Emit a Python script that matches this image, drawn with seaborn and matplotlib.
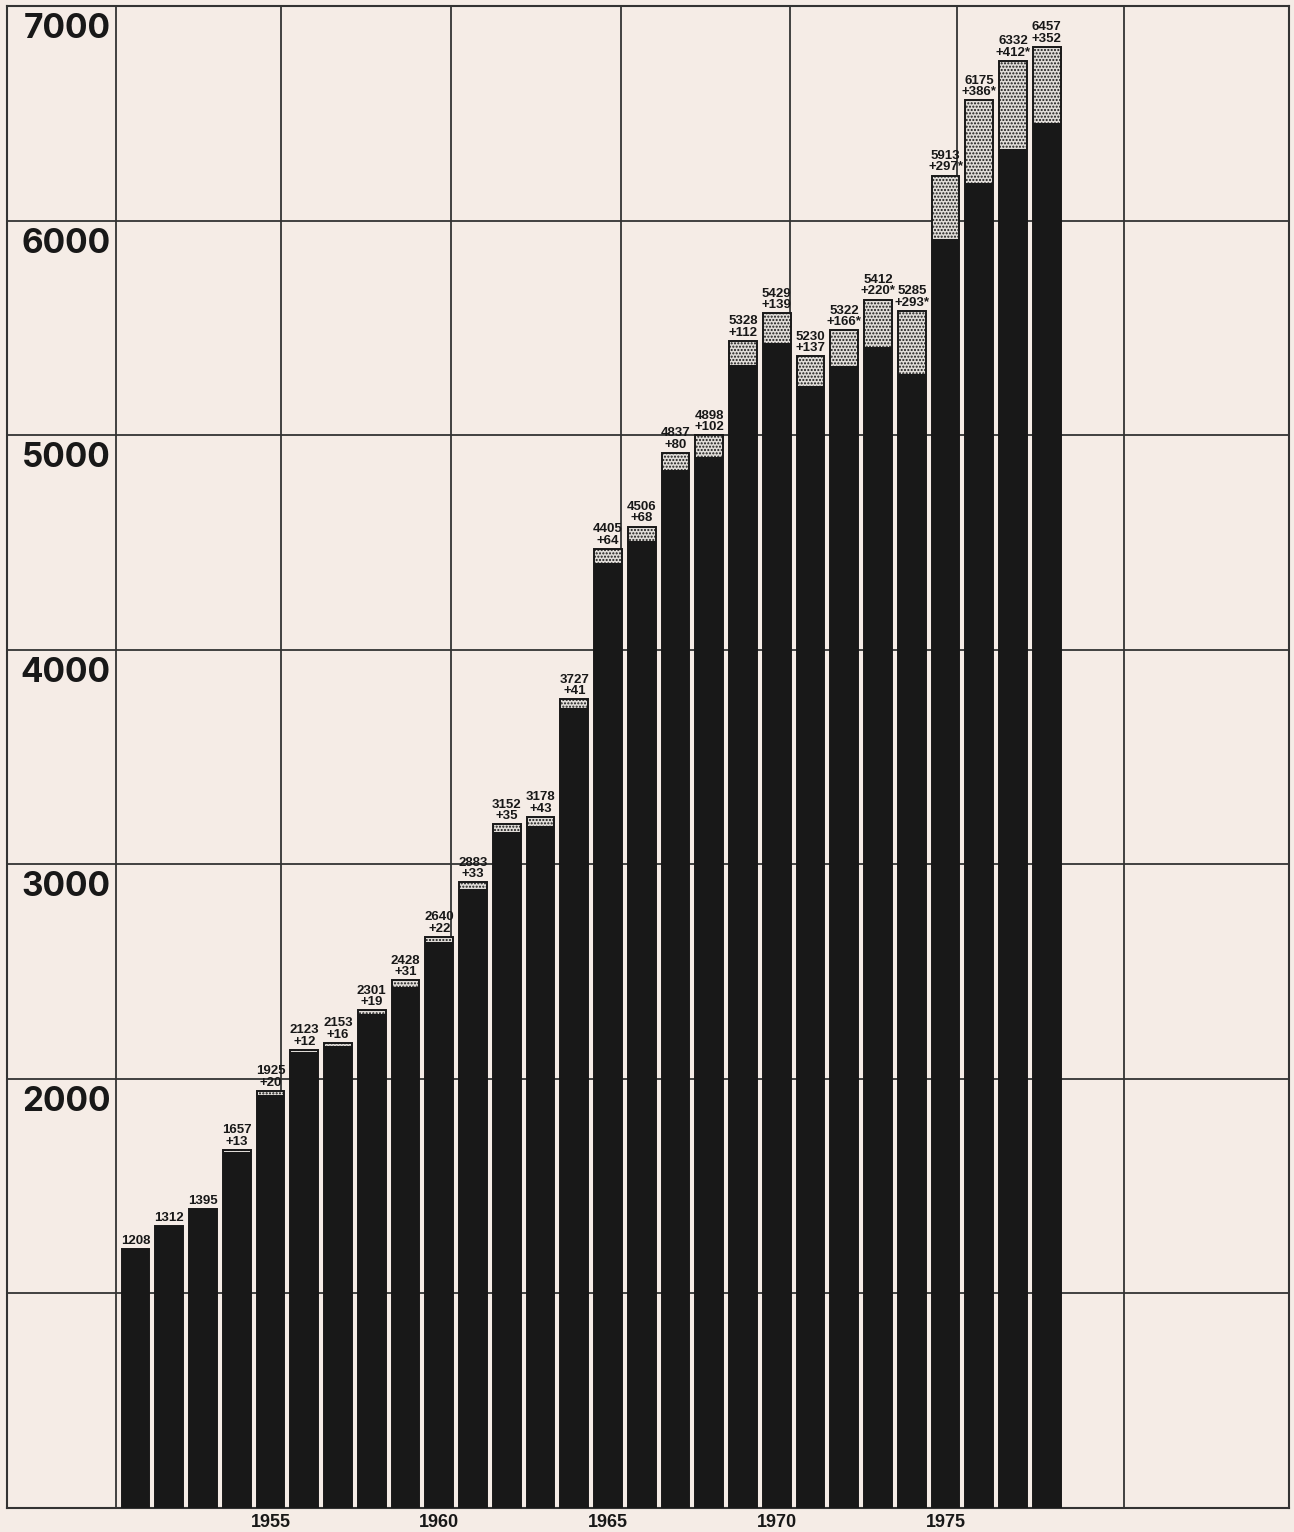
"""Enrollment growth bar chart, 1951-1978, redrawn with seaborn."""
import matplotlib
matplotlib.use('Agg')
import matplotlib.pyplot as plt
import pandas as pd
import seaborn as sns

# data
years = list(range(1951, 1979))
main = [1208, 1312, 1395, 1657, 1925, 2123, 2153, 2301, 2428, 2640,
        2883, 3152, 3178, 3727, 4405, 4506, 4837, 4898, 5328, 5429,
        5230, 5322, 5412, 5285, 5913, 6175, 6332, 6457]
extra = [0, 0, 0, 13, 20, 12, 16, 19, 31, 22,
         33, 35, 43, 41, 64, 68, 80, 102, 112, 139,
         137, 166, 220, 293, 297, 386, 412, 352]
starred = [1972, 1973, 1974, 1975, 1976, 1977]  # "+nnn*"
y_labels = [2000, 3000, 4000, 5000, 6000, 7000]
x_labels = [1955, 1960, 1965, 1970, 1975]
grid_x = [1950.42, 1955.31, 1960.35, 1965.39, 1970.39, 1975.34, 1980.28]

df = pd.DataFrame({'year': years, 'main': main, 'extra': extra})
df['total'] = df['main'] + df['extra']

PAPER = '#f5ece6'
INK = '#181818'
LINE = '#333333'

sns.set_style('white')
small = ['Liberation Sans', 'DejaVu Sans']
big = ['Inter', 'Liberation Sans', 'DejaVu Sans']

W, H = 1294, 1532
fig = plt.figure(figsize=(W / 100, H / 100), dpi=100, facecolor=PAPER)
ax = fig.add_axes([7 / W, (H - 1508) / H, (1289 - 7) / W, (1508 - 6) / H])
ax.set_facecolor(PAPER)

# grey stippled part (total height), then the black part over it
sns.barplot(data=df, x='year', y='total', native_scale=True, width=0.82,
            color='#e0dcd8', saturation=1, errorbar=None,
            edgecolor=INK, linewidth=1.4, zorder=3, ax=ax)
for bar in ax.patches:
    bar.set_hatch('.....')
sns.barplot(data=df, x='year', y='main', native_scale=True, width=0.82,
            color=INK, saturation=1, errorbar=None,
            linewidth=0, zorder=4, ax=ax)

ax.set_xlim(1951 - (135.5 - 7) / 33.75, 1951 + (1289 - 135.5) / 33.75)
ax.set_ylim(0, 7000)

# frame grid
for v in range(1000, 7000, 1000):
    ax.axhline(v, color=LINE, lw=1.3, zorder=1)
for gx in grid_x:
    ax.axvline(gx, color=LINE, lw=1.3, zorder=1)
for s in ax.spines.values():
    s.set_visible(True)
    s.set_color(LINE)
    s.set_linewidth(1.5)

# y labels sit just under their grid line
for v in y_labels:
    ax.annotate(f'{v}', xy=(0.081, v), xycoords=('axes fraction', 'data'),
                xytext=(0, -5), textcoords='offset points',
                ha='right', va='top', fontsize=24, fontweight='bold',
                family=big, color=INK)

# value labels above bars
for yr, m, e, t in zip(df['year'], df['main'], df['extra'], df['total']):
    if e:
        star = '*' if yr in starred else ''
        txt = f'{m}\n+{e}{star}'
    else:
        txt = f'{m}'
    ax.annotate(txt, xy=(yr, t), xytext=(0, 1.5), textcoords='offset points',
                ha='center', va='bottom', fontsize=9.5, fontweight='bold',
                family=small, linespacing=0.95, color=INK, zorder=5)

ax.set_xticks(x_labels)
ax.set_xticklabels([str(x) for x in x_labels], fontsize=13,
                   fontweight='bold', family=small, color=INK)
ax.tick_params(axis='x', length=0, pad=4)
ax.set_yticks([])
ax.set_xlabel('')
ax.set_ylabel('')

fig.savefig('out.png', dpi=100, facecolor=PAPER)
